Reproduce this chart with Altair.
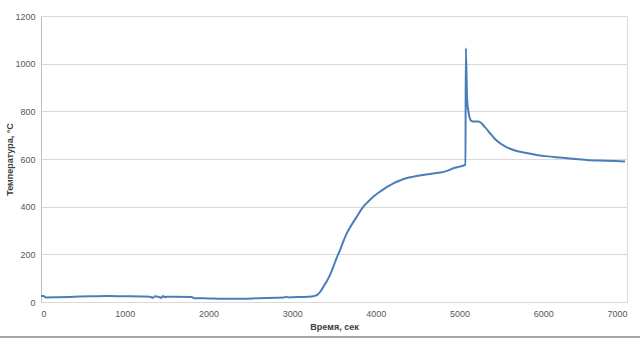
import altair as alt
import pandas as pd

times = [0, 30, 60, 200, 400, 600, 800, 1000, 1200, 1300, 1340, 1360, 1400, 1440, 1460, 1480,
         1500, 1600, 1800, 1830, 1860, 2000, 2200, 2400, 2600, 2800, 2900, 2930, 2960, 3000,
         3100, 3200, 3250, 3300, 3340, 3373, 3410, 3450, 3492, 3530, 3572, 3610, 3652, 3700,
         3772, 3851, 3910, 3970, 4050, 4130, 4210, 4289, 4350, 4448, 4600, 4767, 4850,
         4926, 5000, 5070, 5075, 5090, 5110, 5140, 5170, 5225, 5300, 5364, 5420, 5484, 5560,
         5643, 5800, 5922, 6050, 6201, 6350, 6520, 6750, 6977]
temps = [25, 25, 19, 20, 22, 24, 25, 24, 23, 22, 18, 24, 22, 18, 25, 20,
         22, 22, 21, 16, 16, 15, 14, 14, 16, 18, 19, 22, 19, 20,
         21, 22, 24, 30, 45, 64, 85, 112, 148, 183, 218, 253, 288, 318,
         358, 400, 422, 442, 463, 482, 498, 510, 518, 526, 535, 543, 550,
         561, 568, 575, 1065, 850, 790, 760, 757, 757, 735, 708, 685, 666, 650,
         638, 625, 617, 611, 606, 601, 596, 593, 590]

df = pd.DataFrame({"t": times, "T": temps, "i": range(len(times))})

font = "Liberation Sans"

line = alt.Chart(df).mark_line(color="#4a7ebb", strokeWidth=2, interpolate="monotone").encode(
    x=alt.X("t:Q", scale=alt.Scale(domain=[0, 7000], nice=False),
            axis=alt.Axis(values=[0, 1000, 2000, 3000, 4000, 5000, 6000, 7000],
                          title="Время, сек", grid=False, domain=False, ticks=False,
                          labelFont=font, labelFontSize=9, labelColor="#595959",
                          labelPadding=7, titleFont=font, titleFontSize=9,
                          titleFontWeight="bold", titleColor="#404040", titlePadding=4,
                          format="d")),
    y=alt.Y("T:Q", scale=alt.Scale(domain=[0, 1200], nice=False),
            axis=alt.Axis(values=[0, 200, 400, 600, 800, 1000, 1200],
                          title="Температура, °С", grid=True, gridColor="#d9d9d9",
                          domain=True, domainColor="#bfbfbf", ticks=False,
                          labelFont=font, labelFontSize=9, labelColor="#595959",
                          labelPadding=6, titleFont=font, titleFontSize=9,
                          titleFontWeight="bold", titleColor="#404040",
                          titleX=-27, titleY=143, format="d")),
    order="i:Q",
)

border = alt.Chart(df).mark_rule(color="#a6a6a6", strokeWidth=1.5).encode(
    x=alt.value(-41), x2=alt.value(599), y=alt.value(321)
)

chart = (line + border).properties(
    width=586, height=286,
    autosize=alt.AutoSizeParams(type="none"),
    padding={"left": 41, "top": 16, "right": 13, "bottom": 38},
).configure_view(stroke=None).configure(background="white")

chart.save("out.html", embed_options={"renderer": "svg", "actions": False})
